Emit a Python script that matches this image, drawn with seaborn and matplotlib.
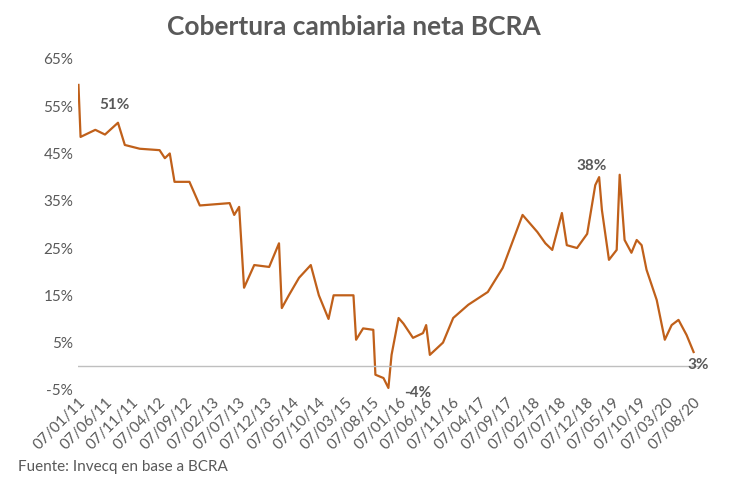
import matplotlib
matplotlib.use("Agg")
import matplotlib.pyplot as plt
import matplotlib.dates as mdates
import seaborn as sns
import pandas as pd

dates = ["2011-01-07", "2011-01-19", "2011-02-16", "2011-04-13", "2011-06-07", "2011-08-20",
         "2011-09-28", "2011-12-22", "2012-04-13", "2012-05-13", "2012-06-10", "2012-07-07",
         "2012-09-30", "2012-11-28", "2013-05-17", "2013-06-12", "2013-07-10", "2013-08-07",
         "2013-10-04", "2013-12-28", "2014-02-22", "2014-03-10", "2014-04-19", "2014-06-16",
         "2014-08-22", "2014-10-07", "2014-12-01", "2014-12-30", "2015-04-22", "2015-05-07",
         "2015-06-16", "2015-08-13", "2015-08-25", "2015-10-10", "2015-11-07", "2015-11-25",
         "2016-01-04", "2016-02-01", "2016-03-26", "2016-05-22", "2016-06-09", "2016-06-30",
         "2016-09-13", "2016-11-10", "2017-02-04", "2017-05-26", "2017-08-19", "2017-12-10",
         "2018-03-04", "2018-04-19", "2018-05-28", "2018-07-22", "2018-08-19", "2018-10-16",
         "2018-12-13", "2019-01-28", "2019-02-19", "2019-03-07", "2019-04-16", "2019-05-30",
         "2019-06-16", "2019-07-14", "2019-08-22", "2019-09-21", "2019-10-19", "2019-11-16",
         "2020-01-13", "2020-02-28", "2020-04-07", "2020-05-16", "2020-07-01", "2020-08-10"]
cobertura = [59.5, 48.5, 49, 50, 49, 51.5,
             46.8, 46, 45.7, 44, 45, 39,
             39, 34, 34.5, 32, 33.7, 16.6,
             21.4, 21, 26, 12.3, 15, 18.7,
             21.4, 15, 10, 15, 15, 5.6,
             8, 7.7, -1.8, -2.5, -4.6, 2.4,
             10.2, 9, 6, 7, 8.7, 2.4,
             5, 10.2, 13, 15.7, 20.8, 32,
             28.4, 26, 24.6, 32.4, 25.6, 25,
             28, 38.3, 40, 33, 22.5, 24.6,
             40.5, 26.7, 24, 26.7, 25.6, 20.4,
             14, 5.6, 8.7, 9.8, 6.6, 3]

anotaciones = [("2011-08-01", 54.5, "51%"), ("2016-04-20", -6.5, "-4%"),
               ("2019-01-10", 41.5, "38%"), ("2020-09-05", -0.5, "3%")]
y_ticks = [-5, 5, 15, 25, 35, 45, 55, 65]

df = pd.DataFrame({"fecha": pd.to_datetime(dates), "cobertura": cobertura})

plt.rcParams["font.family"] = "Lato"
gray = "#595959"
fig = plt.figure(figsize=(7.3, 4.91), dpi=100)
ax = fig.add_axes([0.107, 0.206, 0.853, 0.674])
sns.lineplot(data=df, x="fecha", y="cobertura", ax=ax, color="#C0601A", linewidth=1.6)

ax.set_ylim(-5, 65)
ax.set_yticks(y_ticks)
ax.set_yticklabels([f"{t}%" for t in y_ticks])
ax.set_xlim(pd.Timestamp("2011-01-05"), pd.Timestamp("2020-09-20"))
xt = pd.date_range("2011-01-01", "2020-08-01", freq="5MS") + pd.Timedelta(days=6)
ax.set_xticks(xt)
ax.xaxis.set_major_formatter(mdates.DateFormatter("%d/%m/%y"))
for lab in ax.get_xticklabels():
    lab.set_rotation(45)
    lab.set_ha("right")
    lab.set_rotation_mode("anchor")
ax.tick_params(length=0, colors=gray, labelsize=11)
for s in ax.spines.values():
    s.set_visible(False)
ax.axhline(0, color="#BFBFBF", linewidth=1)
ax.set_xlabel("")
ax.set_ylabel("")

for d, y, txt in anotaciones:
    ax.text(pd.Timestamp(d), y, txt, color=gray, fontsize=11, fontweight="bold", ha="center")

fig.text(0.485, 0.945, "Cobertura cambiaria neta BCRA", ha="center", va="center",
         fontsize=19, fontweight="bold", color=gray)
fig.text(0.025, 0.04, "Fuente: Invecq en base a BCRA", fontsize=11, color=gray)
fig.savefig("out.png", dpi=100)
